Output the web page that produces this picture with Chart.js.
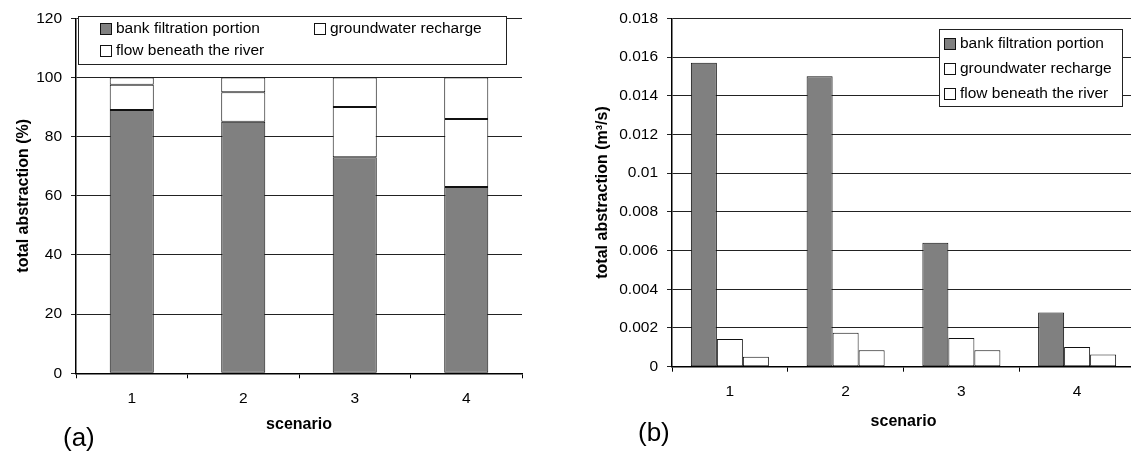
<!DOCTYPE html>
<html>
<head>
<meta charset="utf-8">
<script src="https://cdn.jsdelivr.net/npm/chart.js@4.4.1/dist/chart.umd.min.js"></script>
<style>
html,body{margin:0;padding:0;overflow:hidden;background:#fff;}
body{width:1131px;height:455px;position:relative;font-family:"Liberation Sans",Arial,sans-serif;}
.wrap{position:absolute;top:0;height:455px;}
.tag{position:absolute;font-size:26px;color:#000;line-height:1;}
</style>
</head>
<body>
<div class="wrap" style="left:0;width:560px;"><canvas id="ca" width="560" height="455"></canvas></div>
<div class="wrap" style="left:570px;width:600px;"><canvas id="cb" width="600" height="455"></canvas></div>
<div class="tag" style="left:63px;top:424px;">(a)</div>
<div class="tag" style="left:638px;top:419px;">(b)</div>
<script>
// ---- data ----
const scenarios = ['1', '2', '3', '4'];
const seriesNames = ['bank filtration portion', 'groundwater recharge', 'flow beneath the river'];
const pctBank = [89, 85, 73, 63];
const pctRecharge = [8.5, 10, 17, 23];
const pctBeneath = [2.5, 5, 10, 14];
const flowBank = [0.0157, 0.0150, 0.0064, 0.0028];
const flowRecharge = [0.00143, 0.00176, 0.00148, 0.00102];
const flowBeneath = [0.00052, 0.00085, 0.00085, 0.00063];
const pctTicksMax = 120, pctStep = 20;
const flowTicksMax = 0.018, flowStep = 0.002;

// ---- styles ----
const FONT = '"Liberation Sans", Arial, sans-serif';
Chart.defaults.font.family = FONT;
Chart.defaults.font.size = 15.5;
Chart.defaults.color = '#000';
const GRAY = '#808080', WHITE = '#ffffff', EDGE = '#111';
const fills = [GRAY, WHITE, WHITE];

const boxLegend = {
  id: 'boxLegend',
  afterDraw(chart, args, o) {
    const ctx = chart.ctx;
    ctx.save();
    ctx.fillStyle = '#fff';
    ctx.strokeStyle = '#222';
    ctx.lineWidth = 1;
    ctx.fillRect(o.x, o.y, o.w, o.h);
    ctx.strokeRect(o.x + 0.5, o.y + 0.5, o.w, o.h);
    ctx.font = '15.5px ' + FONT;
    ctx.textBaseline = 'middle';
    ctx.textAlign = 'left';
    o.items.forEach((it, i) => {
      const ds = chart.data.datasets[i];
      ctx.fillStyle = ds.backgroundColor;
      ctx.fillRect(it.x, Math.round(it.y - 5.5), 11, 11);
      ctx.strokeStyle = '#111';
      ctx.strokeRect(it.x + 0.5, Math.round(it.y - 5.5) + 0.5, 11, 11);
      ctx.fillStyle = '#000';
      ctx.fillText(ds.label, it.x + 16, it.y + 1);
    });
    ctx.restore();
  }
};

function mkDatasets(arrs, extra) {
  return arrs.map((d, i) => Object.assign({
    label: seriesNames[i],
    data: d,
    backgroundColor: fills[i],
    borderColor: EDGE,
    borderWidth: 1,
    borderSkipped: false
  }, extra));
}

const titleFont = {size: 16, weight: 'bold', family: FONT};

// ---- chart (a) ----
new Chart(document.getElementById('ca'), {
  type: 'bar',
  data: {
    labels: scenarios,
    datasets: mkDatasets([pctBank, pctRecharge, pctBeneath], {barPercentage: 0.395, categoryPercentage: 1})
  },
  options: {
    responsive: false,
    animation: false,
    layout: {padding: {top: 15, right: 38, bottom: 0, left: 0}},
    plugins: {
      legend: {display: false},
      tooltip: {enabled: false},
      boxLegend: {
        x: 78, y: 16, w: 428, h: 48,
        items: [{x: 100, y: 28}, {x: 314, y: 28}, {x: 100, y: 50}]
      }
    },
    scales: {
      x: {
        stacked: true,
        afterFit(s) { s.height = 81.7; },
        grid: {
          offset: true,
          drawOnChartArea: true,
          color: (c) => (c.index === scenarios.length ? '#888' : 'rgba(0,0,0,0)'),
          tickColor: '#000',
          tickLength: 5,
          lineWidth: 1
        },
        border: {display: true, color: '#000', width: 1.5},
        ticks: {padding: 10.7, font: {size: 15.5}},
        title: {display: true, text: 'scenario', font: titleFont, padding: {top: 0, bottom: 20.4}}
      },
      y: {
        stacked: true,
        min: 0, max: pctTicksMax,
        afterFit(s) { s.width = 76; },
        grid: {color: '#222', tickColor: '#222', tickLength: 5, lineWidth: 1},
        border: {display: true, color: '#000', width: 1.5},
        ticks: {stepSize: pctStep, padding: 9, font: {size: 15.5}},
        title: {display: true, text: 'total abstraction (%)', font: titleFont, padding: {top: 14.4, bottom: 0}}
      }
    }
  },
  plugins: [boxLegend]
});

// ---- chart (b) ----
new Chart(document.getElementById('cb'), {
  type: 'bar',
  data: {
    labels: scenarios,
    datasets: mkDatasets([flowBank, flowRecharge, flowBeneath], {barPercentage: 1, categoryPercentage: 0.674})
  },
  options: {
    responsive: false,
    animation: false,
    layout: {padding: {top: 18.3, right: 35, bottom: 0, left: 0}},
    plugins: {
      legend: {display: false},
      tooltip: {enabled: false},
      boxLegend: {
        x: 369, y: 29, w: 183, h: 77,
        items: [{x: 374, y: 43}, {x: 374, y: 68}, {x: 374, y: 93}]
      }
    },
    scales: {
      x: {
        afterFit(s) { s.height = 88.3; },
        grid: {
          offset: true,
          drawOnChartArea: false,
          tickColor: '#000',
          tickLength: 5
        },
        border: {display: true, color: '#000', width: 1.5},
        ticks: {padding: 10.7, font: {size: 15.5}},
        title: {display: true, text: 'scenario', font: titleFont, padding: {top: 0, bottom: 23.7}}
      },
      y: {
        min: 0, max: flowTicksMax,
        afterFit(s) { s.width = 102; },
        grid: {color: '#222', tickColor: '#222', tickLength: 5, lineWidth: 1},
        border: {display: true, color: '#000', width: 1.5},
        ticks: {
          stepSize: flowStep, padding: 9, font: {size: 15.5},
          callback: (v) => String(Number(Number(v).toFixed(4)))
        },
        title: {display: true, text: 'total abstraction (m³/s)', font: titleFont, padding: {top: 23.4, bottom: 0}}
      }
    }
  },
  plugins: [boxLegend]
});
</script>
</body>
</html>
